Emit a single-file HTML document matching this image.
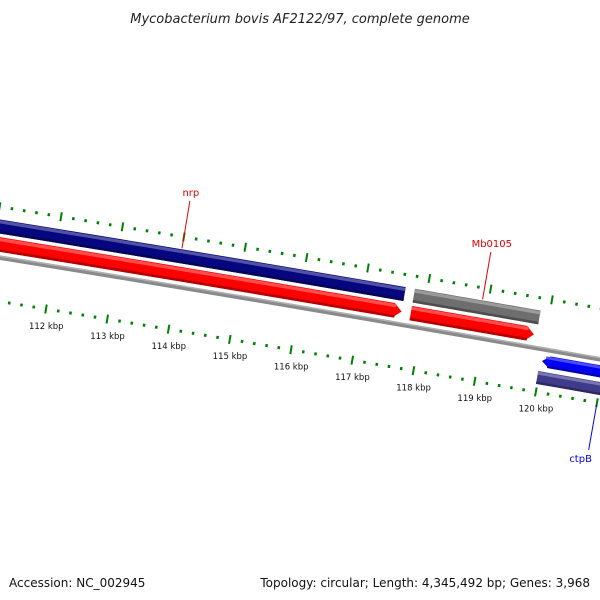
<!DOCTYPE html>
<html><head><meta charset="utf-8"><style>
html,body{margin:0;padding:0;background:#fff;}
svg{display:block;font-family:"DejaVu Sans","Liberation Sans",sans-serif;}
</style></head><body>
<svg id="map" width="600" height="600" viewBox="0 0 600 600" xmlns="http://www.w3.org/2000/svg">
<rect width="600" height="600" fill="#fff"/>
<text x="300" y="23" text-anchor="middle" font-size="13" font-style="italic" fill="#222">Mycobacterium bovis AF2122/97, complete genome</text>
<g id="tracks"></g>
<g id="ticks"></g>
<g id="labels"></g>
<text x="9" y="587" font-size="12" fill="#111">Accession: NC_002945</text>
<text x="590" y="587" text-anchor="end" font-size="12" fill="#111">Topology: circular; Length: 4,345,492 bp; Genes: 3,968</text>
</svg>
<script>
// data (kbp)
const genomeKbp = 4345.492;
const tickLabels = [112,113,114,115,116,117,118,119,120];
const featNames = ["nrp","Mb0105","nrp-cds","Mb0105-cds","ctpB","ctpB-cds"];
const featStart = [100, 117.80, 100, 117.80, 120.01, 119.98];
const featEnd = [117.65, 119.85, 117.65, 119.81, 130, 130];
const featStrand = [0, 0, 1, 1, -1, 0];
const featTrack = ["outer","outer","mid","mid","rev","rev2"];
const featColor = ["#06067e","#6e6e6e","#ff0000","#ff0000","#0000f5","#3f3b8a"];
const geneLabels = ["nrp","Mb0105","ctpB"];
const geneLabelKbp = [114.0, 118.9, 121.0];

const NS="http://www.w3.org/2000/svg";
const R0=42950, th0=112/genomeKbp*2*Math.PI;
const cx=46-R0*Math.sin(th0), cy=309+R0*Math.cos(th0);
const trackR={outer:[67,81],mid:[49,63.5],rev:[25.5,37.5],rev2:[8,21]};
function ang(k){return k/genomeKbp*2*Math.PI;}
function pt(k,r){const a=ang(k),R=R0+r;return [cx+R*Math.sin(a),cy-R*Math.cos(a)];}
function kPerPx(){return 1/(R0*2*Math.PI/genomeKbp);}
function mk(tag,attrs,parent){const e=document.createElementNS(NS,tag);for(const k in attrs)e.setAttribute(k,attrs[k]);parent.appendChild(e);return e;}
function arcPts(a,b,r){const p=[];const n=30;for(let i=0;i<=n;i++)p.push(pt(a+(b-a)*i/n,r));return p;}
function band(a,b,r1,r2,strand){
  const h=8*kPerPx();let pts=[];
  if(strand===1){pts=arcPts(a,b-h,r2).concat([pt(b,(r1+r2)/2)]).concat(arcPts(b-h,a,r1));}
  else if(strand===-1){pts=[pt(a,(r1+r2)/2)].concat(arcPts(a+h,b,r2)).concat(arcPts(b,a+h,r1));}
  else pts=arcPts(a,b,r2).concat(arcPts(b,a,r1));
  return pts.map(p=>p[0].toFixed(2)+","+p[1].toFixed(2)).join(" ");
}
function shade(c,f){const n=parseInt(c.slice(1),16);let r=n>>16,g=(n>>8)&255,b=n&255;
  const m=v=>Math.max(0,Math.min(255,Math.round(f>0?v+(255-v)*f:v*(1+f))));
  return "rgb("+m(r)+","+m(g)+","+m(b)+")";}
const tracks=document.getElementById('tracks');
// backbone
const bb=mk('polygon',{points:band(100,130,41,45.5,0),fill:'#8a8a8a'},tracks);


mk('polygon',{points:band(100,130,44,45.5,0),fill:'#b0b0b0'},tracks);
for(let i=0;i<featNames.length;i++){
  const [r1,r2]=trackR[featTrack[i]];
  const g=mk('g',{},tracks);
  
  
  mk('polygon',{points:band(featStart[i],featEnd[i],r1,r2,featStrand[i]),fill:featColor[i]},g);
  const w=r2-r1;
  mk('polygon',{points:band(featStart[i]+(featStrand[i]===-1?0.06:0),featEnd[i]-(featStrand[i]===1?0.1:0),r2-w*0.28,r2-w*0.05,0),fill:shade(featColor[i],0.3)},g);
  mk('polygon',{points:band(featStart[i]+(featStrand[i]===-1?0.1:0),featEnd[i]-(featStrand[i]===1?0.1:0),r1,r1+w*0.18,0),fill:shade(featColor[i],-0.3)},g);
}
// ticks
const ticks=document.getElementById('ticks');
for(let i=0;i<=100;i++){
  const k=110+i*0.2;const major=(i%5===0);
  [0,93.5].forEach(base=>{
    const L=major?4.5:1.5;const a=pt(k,base-L),b=pt(k,base+L);
    const t=mk('line',{x1:a[0],y1:a[1],x2:b[0],y2:b[1],stroke:'#008000','stroke-width':major?2:2.5},ticks);
    
    
  });
}
const labels=document.getElementById('labels');
tickLabels.forEach(k=>{
  const p=pt(k,-17);
  const t=mk('text',{x:p[0]+3,y:p[1]+3,'text-anchor':'middle','font-size':'8.5',fill:'#111'},labels);
  t.textContent=k+" kbp";
  
  
});
// gene labels
const glColor=["#e00000","#e00000","#0000ee"];
const glR=[[82,130],[82,130],[-2,-48]];
geneLabels.forEach((n,i)=>{
  const a=pt(geneLabelKbp[i],glR[i][0]),b=pt(geneLabelKbp[i],glR[i][1]);
  const l=mk('line',{x1:a[0],y1:a[1],x2:b[0],y2:b[1],stroke:glColor[i],'stroke-width':1},labels);
  
  
  const up=glR[i][1]>0;
  const t=mk('text',{x:b[0]+(up?1:-8),y:b[1]+(up?-5:12),'text-anchor':'middle','font-size':'10',fill:glColor[i]},labels);
  t.textContent=n;
  
  
});
</script>
</body></html>
